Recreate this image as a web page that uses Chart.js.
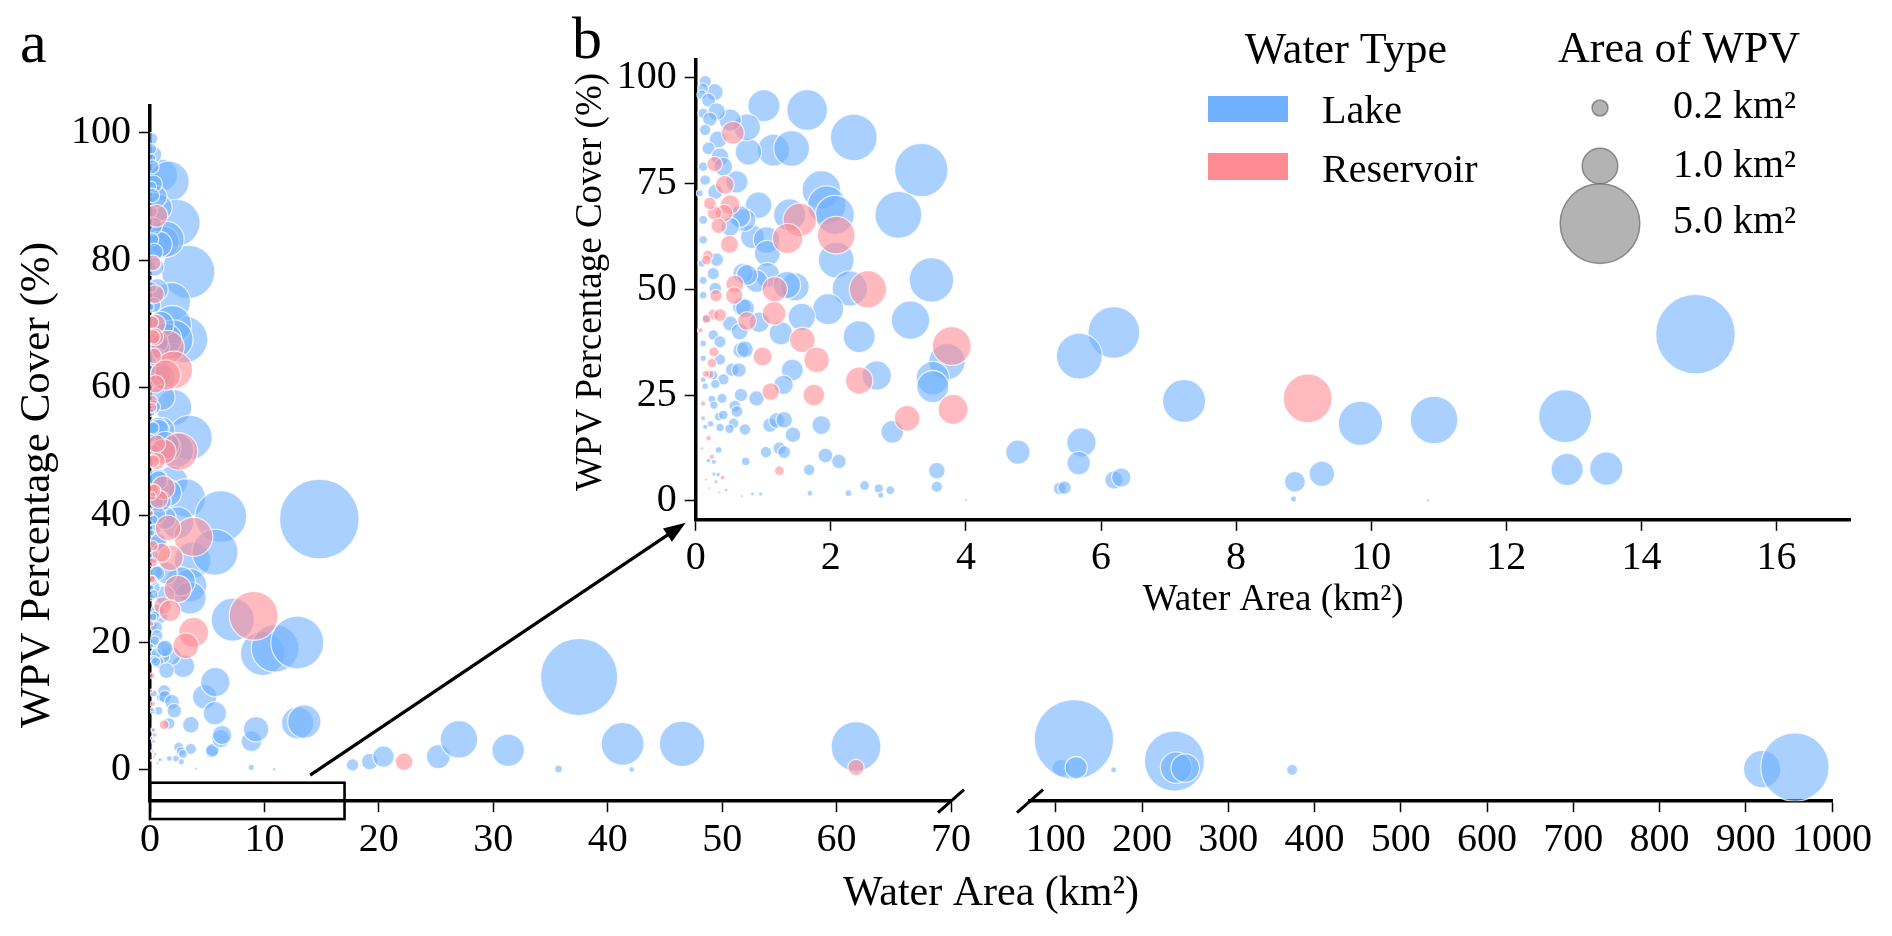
<!DOCTYPE html>
<html>
<head>
<meta charset="utf-8">
<title>WPV percentage cover vs water area</title>
<script src="https://cdn.jsdelivr.net/npm/chart.js@4.4.1/dist/chart.umd.min.js"></script>
<style>
  html, body { margin: 0; padding: 0; background: #fff; }
  #wrap { position: relative; width: 1892px; height: 936px; }
  .layer { position: absolute; left: 0; top: 0; width: 1892px; height: 936px; }
</style>
</head>
<body>
<div id="wrap">
  <div class="layer"><canvas id="aLeft"></canvas></div>
  <div class="layer"><canvas id="aRight"></canvas></div>
  <div class="layer"><canvas id="inset"></canvas></div>
</div>
<script>
// water area (km2) and WPV percentage cover (%)
const lakeArea = [
  1.01, 1.65, 2.34, 3.34, 1.15, 1.42, 0.78, 0.76, 0.51, 3.00,
  1.86, 1.94, 2.06, 1.39, 2.08, 0.84, 1.05, 0.93, 1.06, 0.72,
  3.49, 2.28, 1.47, 1.06, 0.90, 0.70, 1.96, 3.18, 1.57, 2.42,
  3.72, 3.51, 3.51, 2.68, 1.26, 1.43, 1.30, 2.91, 1.86, 4.77,
  0.68, 0.67, 0.54, 0.90, 0.67, 1.10, 1.20, 0.73, 1.44, 0.94,
  0.61, 0.28, 1.04, 1.24, 1.31, 1.92, 2.12, 0.74, 1.68, 3.57,
  3.57, 2.50, 2.71, 2.88, 2.74, 2.26, 1.69, 0.96, 0.84, 0.68,
  4.00, 5.39, 0.34, 0.27, 0.19, 0.33, 0.27,
  14.8, 6.19, 5.68, 7.23, 9.84, 10.93, 12.87, 12.9, 13.48, 5.71,
  5.67, 5.46, 6.19, 6.30, 8.87, 9.27, 8.85, 10.84,
  0.14, 0.11, 0.09, 0.19, 0.31, 0.11, 0.21, 0.14, 0.33, 0.19,
  0.36, 0.11, 0.41, 0.14, 0.29, 0.06, 0.65, 0.11, 0.51, 0.11,
  0.31, 0.09, 0.76, 1.35, 0.26, 0.11, 0.29, 0.11, 0.16, 0.51,
  0.65, 0.73, 0.26, 0.36, 0.11, 0.73, 0.36, 0.11, 0.64, 0.41,
  0.26, 0.11, 0.14, 0.29, 0.39, 0.24, 0.27, 0.58, 0.61, 0.34,
  0.41, 0.22, 0.11, 0.56, 1.31,
  0.14, 0.36, 0.50, 0.30, 0.20, 0.45, 0.10, 0.15,
  17.7, 19.2, 20.4, 25.2, 27.0, 31.3, 37.5, 35.7, 41.3, 42.1,
  46.5, 61.7, 105.8, 120.9, 123.5, 167, 237.5, 239.4, 250, 374,
  919, 957
];
const lakeCover = [
  93.4, 92.4, 85.9, 78.2, 82.9, 83.3, 82.5, 88.3, 90.0, 67.6,
  73.5, 69.9, 67.6, 67.6, 56.9, 62.4, 61.7, 69.9, 58.5, 66.4,
  52.2, 50.2, 50.6, 53.4, 51.9, 53.8, 45.3, 42.7, 43.5, 38.8,
  32.9, 29.0, 27.0, 29.6, 39.6, 30.9, 27.4, 16.3, 17.9, 11.5,
  45.9, 35.6, 31.0, 24.2, 25.0, 17.9, 19.0, 16.9, 15.6, 42.2,
  75.4, 96.6, 11.5, 12.4, 11.5, 10.7, 9.3, 9.3, 7.3, 7.1,
  3.3, 3.6, 2.9, 2.5, 1.3, 1.8, 1.8, 1.6, 1.6, 1.1,
  0.2, 2.9, 12.0, 9.2, 9.5, 6.2, 6.3,
  39.4, 39.8, 34.2, 23.6, 18.3, 19.1, 20.0, 7.4, 7.6, 13.8,
  8.9, 3.1, 4.9, 5.5, 4.5, 6.4, 0.4, 0.1,
  99.1, 97.5, 96.0, 94.7, 92.0, 91.6, 90.2, 87.7, 85.4, 83.3,
  81.3, 79.0, 79.0, 75.8, 73.0, 72.7, 67.2, 66.4, 64.8, 61.7,
  57.0, 56.1, 53.4, 51.0, 53.7, 52.1, 50.2, 48.6, 43.1, 41.9,
  40.0, 45.5, 39.2, 37.6, 37.2, 35.8, 33.4, 33.7, 30.9, 28.7,
  29.7, 28.6, 27.1, 27.6, 24.2, 24.0, 22.6, 22.4, 21.1, 19.9,
  20.3, 18.2, 19.5, 18.3, 19.1,
  17.5, 17.3, 17.0, 4.5, 3.0, 2.5, 1.5, 5.0,
  0.8, 1.3, 2.1, 2.1, 4.8, 3.1, 14.6, 0.15, 4.1, 0.07,
  4.1, 3.7, 0.27, 4.8, 0.37, 0.02, 1.4, 0.38, 0.3, 0.03,
  0.14, 0.45
];
const reservoirArea = [
  0.55, 1.54, 2.08, 1.36, 2.55, 1.17, 1.16, 0.76, 3.79, 2.42,
  1.58, 1.79, 0.99, 1.11, 1.75, 3.81, 3.13, 0.43, 0.51, 0.42,
  0.28, 0.34, 0.50, 0.28, 0.21, 0.58, 0.57, 0.30, 0.26, 0.36,
  0.16, 0.27, 0.24, 0.21, 0.15, 0.11, 0.19, 0.18, 0.16, 0.07,
  1.24, 0.24, 0.09, 9.06, 22.2, 61.7, 0.20, 0.35, 0.40
];
const reservoirCover = [
  87.0, 66.4, 62.8, 62.0, 50.0, 50.0, 44.3, 42.5, 36.6, 28.4,
  38.0, 33.3, 34.1, 25.8, 25.0, 21.6, 19.5, 74.7, 70.0, 68.0,
  68.0, 65.0, 60.6, 79.6, 70.3, 51.2, 48.5, 48.5, 44.0, 43.9,
  43.0, 35.2, 32.6, 29.9, 30.0, 23.0, 14.8, 58.0, 56.9, 40.3,
  7.1, 10.4, 12.4, 24.2, 1.3, 0.4, 3.0, 2.0, 5.5
];

// tick labels
const aYTicks = [0, 20, 40, 60, 80, 100];
const aXTicksLeft = [0, 10, 20, 30, 40, 50, 60, 70];
const aXTicksRight = [100, 200, 300, 400, 500, 600, 700, 800, 900, 1000];
const bXTicks = [0, 2, 4, 6, 8, 10, 12, 14, 16];
const bYTicks = [0, 25, 50, 75, 100];
const sizeLegend = [0.2, 1.0, 5.0];

const FONT = "'Liberation Serif', 'Times New Roman', Times, 'DejaVu Serif', 'Noto Serif', serif";
const LAKE = 'rgb(111,176,255)';
const RES = 'rgb(255,140,148)';
const LAKE_FILL = 'rgba(111,176,255,0.6)';
const RES_FILL = 'rgba(255,140,148,0.6)';
const R_SCALE = 16.5;   // px per sqrt(km2) of WPV area

Chart.defaults.font.family = FONT;
Chart.defaults.color = '#000';

const lakePts = lakeArea.map((a, i) => ({ x: a, y: lakeCover[i] }));
const resPts = reservoirArea.map((a, i) => ({ x: a, y: reservoirCover[i] }));

// bubble size = WPV area = water area * cover
function wpvRadius(ctx) {
  const p = ctx.raw;
  if (!p) return 0;
  return Math.max(R_SCALE * Math.sqrt(p.x * p.y / 100), 0.7);
}

function datasets(keep) {
  const common = { borderColor: 'rgba(255,255,255,0.75)', borderWidth: 1.3, radius: wpvRadius, hoverRadius: 0, clip: 0 };
  return [
    Object.assign({ label: 'Reservoir', data: resPts.filter(keep), backgroundColor: RES_FILL }, common),
    Object.assign({ label: 'Lake', data: lakePts.filter(keep), backgroundColor: LAKE_FILL }, common)
  ];
}

function axis(min, max, ticks, fit, pad) {
  return {
    type: 'linear', min: min, max: max,
    afterBuildTicks: s => { s.ticks = ticks.map(v => ({ value: v })); },
    afterFit: fit,
    ticks: { font: { size: 40 }, color: '#000', padding: pad, autoSkip: false, maxRotation: 0, callback: v => String(v) },
    grid: { display: true, drawOnChartArea: false, drawTicks: true, tickLength: 11, tickWidth: 1.5, tickColor: '#000' },
    border: { display: true, width: 3.5, color: '#000' }
  };
}

function baseOptions(padding, scales) {
  return {
    responsive: true, maintainAspectRatio: false, animation: false, events: [],
    layout: { padding: padding },
    plugins: { legend: { display: false }, tooltip: { enabled: false } },
    scales: scales
  };
}

const A_TOP = 105.6, A_BOTTOM = 801.2, A_LEFT = 150, A_RIGHT = 951, AR_LEFT = 1030, AR_RIGHT = 1832;
const B_LEFT = 695.7, B_RIGHT = 1852, B_TOP = 59.6, B_BOTTOM = 519.8;
const A_YMIN = -4.9, A_YMAX = 104.3;

const chartALeft = new Chart(document.getElementById('aLeft'), {
  type: 'bubble',
  data: { datasets: datasets(p => p.x <= 70) },
  options: baseOptions({ left: 0, top: A_TOP, right: 1892 - A_RIGHT, bottom: 0 }, {
    x: axis(0, 70, aXTicksLeft, s => { s.height = 936 - A_BOTTOM; }, 4),
    y: axis(A_YMIN, A_YMAX, aYTicks, s => { s.width = A_LEFT; }, 8)
  })
});

const chartARight = new Chart(document.getElementById('aRight'), {
  type: 'bubble',
  data: { datasets: datasets(p => p.x > 70) },
  options: baseOptions({ left: AR_LEFT, top: A_TOP, right: 1892 - AR_RIGHT, bottom: 0 }, {
    x: axis(70, 1000, aXTicksRight, s => { s.height = 936 - A_BOTTOM; }, 4),
    y: { type: 'linear', display: false, min: A_YMIN, max: A_YMAX }
  })
});

// annotations, titles and legends drawn on the top layer
const overlay = {
  id: 'overlay',
  afterDraw(chart) {
    const c = chart.ctx;
    const ax = chartALeft.scales.x, ay = chartALeft.scales.y;
    const rx = chartARight.scales.x;
    const area = chart.chartArea;
    c.save();
    c.fillStyle = '#000';
    c.strokeStyle = '#000';

    // panel letters
    c.font = '60px ' + FONT;
    c.textAlign = 'left'; c.textBaseline = 'alphabetic';
    c.fillText('a', 20, 62);
    c.fillText('b', 572, 58);

    // axis titles
    c.textAlign = 'center';
    c.font = '42px ' + FONT;
    c.fillText('Water Area (km²)', (A_LEFT + AR_RIGHT) / 2, 905);
    c.font = '37px ' + FONT;
    c.fillText('Water Area (km²)', (area.left + area.right) / 2, 610);
    c.textBaseline = 'middle';
    c.font = '43px ' + FONT;
    c.save(); c.translate(38, 485); c.rotate(-Math.PI / 2);
    c.fillText('WPV Percentage Cover (%)', 0, 0); c.restore();
    c.font = '37px ' + FONT;
    c.save(); c.translate(591, 282); c.rotate(-Math.PI / 2);
    c.fillText('WPV Percentage Cover (%)', 0, 0); c.restore();

    // broken-axis marks
    c.lineWidth = 3;
    [ax.getPixelForValue(70), rx.getPixelForValue(70)].forEach(cx => {
      c.beginPath(); c.moveTo(cx - 13, A_BOTTOM + 11.5); c.lineTo(cx + 13, A_BOTTOM - 11.5); c.stroke();
    });

    // zoom box on panel a
    c.lineWidth = 2.6;
    const x0 = ax.getPixelForValue(0), x1 = ax.getPixelForValue(17);
    const y0 = ay.getPixelForValue(-2), y1 = ay.getPixelForValue(-7.7);
    c.strokeRect(x0, y0, x1 - x0, y1 - y0);

    // arrow to the inset
    const sx = ax.getPixelForValue(14), sy = ay.getPixelForValue(-0.8);
    const tx = area.left - 10, ty = area.bottom + 3;
    const ang = Math.atan2(ty - sy, tx - sx), head = 22;
    c.lineWidth = 3.2;
    c.beginPath(); c.moveTo(sx, sy);
    c.lineTo(tx - head * 0.8 * Math.cos(ang), ty - head * 0.8 * Math.sin(ang)); c.stroke();
    c.beginPath(); c.moveTo(tx, ty);
    c.lineTo(tx - head * Math.cos(ang) + 8 * Math.sin(ang), ty - head * Math.sin(ang) - 8 * Math.cos(ang));
    c.lineTo(tx - head * Math.cos(ang) - 8 * Math.sin(ang), ty - head * Math.sin(ang) + 8 * Math.cos(ang));
    c.closePath(); c.fill();

    // legend: water type
    c.textBaseline = 'alphabetic';
    c.font = '44px ' + FONT;
    c.textAlign = 'center';
    c.fillText('Water Type', 1346, 63);
    c.fillText('Area of WPV', 1679, 62);
    c.font = '40px ' + FONT;
    c.textAlign = 'left';
    c.fillStyle = LAKE; c.fillRect(1208, 96, 80, 26);
    c.fillStyle = RES; c.fillRect(1208, 153, 80, 27);
    c.fillStyle = '#000';
    c.fillText('Lake', 1322, 123);
    c.fillText('Reservoir', 1322, 182);

    // legend: area of WPV (1.0 and 5.0 circles touch, 0.2 sits above)
    const legK = 17.8;
    const radii = sizeLegend.map(s => legK * Math.sqrt(s));
    const centers = [108, 166, 166 + radii[1] + radii[2]];
    const labelY = [118, 177, 233];
    sizeLegend.forEach((s, i) => {
      c.beginPath(); c.arc(1600, centers[i], radii[i], 0, Math.PI * 2);
      c.fillStyle = 'rgba(128,128,128,0.6)'; c.fill();
      c.strokeStyle = 'rgba(110,110,110,0.75)'; c.lineWidth = 1.5; c.stroke();
      c.fillStyle = '#000';
      c.fillText(s.toFixed(1) + ' km²', 1673, labelY[i]);
    });
    c.restore();
  }
};

const chartB = new Chart(document.getElementById('inset'), {
  type: 'bubble',
  data: { datasets: datasets(p => p.x <= 17.2) },
  options: baseOptions({ left: 560, top: B_TOP, right: 1892 - B_RIGHT, bottom: 0 }, {
    x: axis(0, 17.1, bXTicks, s => { s.height = 936 - B_BOTTOM; }, 4),
    y: axis(-4.5, 104.3, bYTicks, s => { s.width = B_LEFT - 560; }, 8)
  }),
  plugins: [overlay]
});
</script>
</body>
</html>
